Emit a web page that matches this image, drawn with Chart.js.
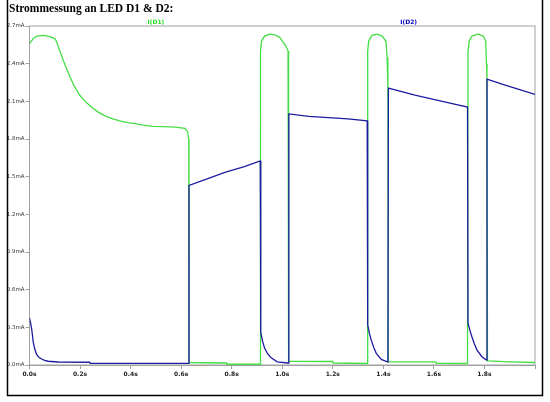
<!DOCTYPE html>
<html>
<head>
<meta charset="utf-8">
<script src="https://cdn.jsdelivr.net/npm/chart.js@4/dist/chart.umd.min.js"></script>
<style>
  html, body { margin: 0; padding: 0; background: #fff; }
  #wrap { position: relative; width: 550px; height: 402px; }
</style>
</head>
<body>
<div id="wrap"><canvas id="chart" width="550" height="402"></canvas></div>
<script>
// I(D1) - time in s, current in mA
const timeD1 = [0, 0.015, 0.03, 0.055, 0.08, 0.1, 0.105, 0.11, 0.115, 0.12, 0.127, 0.133, 0.145, 0.159, 0.175, 0.198, 0.225, 0.251, 0.275, 0.303, 0.33, 0.356, 0.39, 0.421, 0.45, 0.487, 0.53, 0.578, 0.615, 0.625, 0.63, 0.631,
  0.78, 0.781, 0.912, 0.914, 0.918, 0.93, 0.95, 0.97, 0.99, 1.0, 1.012, 1.023, 1.025,
  1.2, 1.201, 1.336, 1.338, 1.342, 1.355, 1.375, 1.395, 1.41, 1.415, 1.418, 1.42,
  1.608, 1.609, 1.733, 1.735, 1.74, 1.75, 1.775, 1.795, 1.805, 1.808, 1.81, 1.812, 1.9, 2.0];
const currentD1 = [2.56, 2.60, 2.62, 2.625, 2.615, 2.60, 2.585, 2.56, 2.53, 2.50, 2.465, 2.43, 2.37, 2.30, 2.23, 2.15, 2.09, 2.045, 2.01, 1.98, 1.96, 1.945, 1.93, 1.92, 1.91, 1.90, 1.898, 1.895, 1.885, 1.86, 1.80, 0.02,
  0.016, 0.006, 0.006, 2.50, 2.58, 2.62, 2.635, 2.63, 2.61, 2.58, 2.55, 2.50, 0.03,
  0.028, 0.016, 0.012, 2.50, 2.58, 2.625, 2.635, 2.62, 2.58, 2.45, 2.21, 0.026,
  0.025, 0.013, 0.012, 2.50, 2.58, 2.62, 2.635, 2.62, 2.58, 2.40, 2.28, 0.032, 0.025, 0.02];

// I(D2)
const timeD2 = [0, 0.005, 0.009, 0.015, 0.021, 0.028, 0.037, 0.048, 0.06, 0.074, 0.113, 0.238, 0.24, 0.629, 0.631, 0.7, 0.776, 0.85, 0.913,
  0.915, 0.922, 0.93, 0.942, 0.955, 0.98, 1.02, 1.024, 1.026, 1.105, 1.26, 1.336,
  1.338, 1.345, 1.352, 1.362, 1.372, 1.392, 1.418, 1.42, 1.525, 1.655, 1.733,
  1.735, 1.742, 1.75, 1.76, 1.77, 1.79, 1.808, 1.81, 1.879, 2.0];
const currentD2 = [0.374, 0.33, 0.28, 0.18, 0.125, 0.085, 0.062, 0.048, 0.037, 0.03, 0.024, 0.022, 0.013, 0.013, 1.43, 1.48, 1.537, 1.58, 1.625,
  0.26, 0.19, 0.135, 0.09, 0.06, 0.025, 0.016, 0.016, 2.0, 1.98, 1.96, 1.945,
  0.32, 0.25, 0.20, 0.14, 0.093, 0.045, 0.024, 2.205, 2.15, 2.09, 2.054,
  0.333, 0.28, 0.227, 0.17, 0.12, 0.066, 0.04, 2.277, 2.232, 2.155];

const xTicks = [0, 0.2, 0.4, 0.6, 0.8, 1.0, 1.2, 1.4, 1.6, 1.8, 2.0];
const yTicks = [0, 0.3, 0.6, 0.9, 1.2, 1.5, 1.8, 2.1, 2.4, 2.7];

const toPoints = (xs, ys) => xs.map((x, i) => ({ x: x, y: ys[i] }));

const frame = {
  id: 'frame',
  beforeDatasetsDraw(chart) {
    const { ctx, chartArea: a } = chart;
    ctx.save();
    ctx.strokeStyle = '#a0a0a0';
    ctx.lineWidth = 1;
    ctx.strokeRect(a.left, a.top, a.right - a.left, a.bottom - a.top);
    ctx.restore();
  },
  afterDraw(chart) {
    const { ctx, chartArea: a } = chart;
    ctx.save();
    ctx.strokeStyle = '#000';
    ctx.lineWidth = 1.5;
    ctx.beginPath();
    ctx.moveTo(7.5, -2);
    ctx.lineTo(7.5, 395.5);
    ctx.lineTo(542.5, 395.5);
    ctx.lineTo(542.5, -2);
    ctx.stroke();

    ctx.fillStyle = '#000';
    ctx.font = 'bold 11.5px "Liberation Serif", serif';
    ctx.textBaseline = 'alphabetic';
    ctx.fillText('Strommessung an LED D1 & D2:', 9, 12);

    ctx.font = 'bold 6px "DejaVu Sans", sans-serif';
    ctx.textAlign = 'center';
    ctx.textBaseline = 'middle';
    const w = a.right - a.left;
    ctx.fillStyle = '#22dd22';
    ctx.fillText('I(D1)', a.left + w / 4, 22);
    ctx.fillStyle = '#0000cc';
    ctx.fillText('I(D2)', a.left + 3 * w / 4, 22);
    ctx.restore();
  }
};

new Chart(document.getElementById('chart').getContext('2d'), {
  type: 'line',
  data: {
    datasets: [{
      label: 'I(D2)',
      data: toPoints(timeD2, currentD2),
      borderColor: '#1c1ca0',
      borderWidth: 1.3,
      pointRadius: 0,
      tension: 0,
      fill: false,
      order: 1
    }, {
      label: 'I(D1)',
      data: toPoints(timeD1, currentD1),
      borderColor: '#44dd44',
      borderWidth: 1.3,
      pointRadius: 0,
      tension: 0,
      fill: false,
      order: 2
    }]
  },
  options: {
    responsive: false,
    animation: false,
    layout: { padding: { left: 7.5, right: 15, top: 26, bottom: 17 } },
    scales: {
      x: {
        type: 'linear',
        min: 0,
        max: 2.0,
        afterFit: s => { s.height = 20; },
        afterBuildTicks: s => { s.ticks = xTicks.map(v => ({ value: v })); },
        grid: { drawOnChartArea: false, drawTicks: true, tickLength: 4, color: '#a0a0a0' },
        border: { color: '#a0a0a0' },
        ticks: {
          padding: 2,
          maxRotation: 0,
          autoSkip: false,
          color: '#222',
          font: { family: 'DejaVu Sans', size: 6, weight: 'bold' },
          callback: v => (v > 1.95 ? '' : v.toFixed(1) + 's')
        }
      },
      y: {
        min: 0,
        max: 2.7,
        afterFit: s => { s.width = 22; },
        afterBuildTicks: s => { s.ticks = yTicks.map(v => ({ value: v })); },
        grid: { drawOnChartArea: false, drawTicks: true, tickLength: 4, color: '#a0a0a0' },
        border: { color: '#a0a0a0' },
        ticks: {
          padding: 1,
          autoSkip: false,
          color: '#333',
          font: { family: 'DejaVu Sans', size: 5.5 },
          callback: v => v.toFixed(1) + 'mA'
        }
      }
    },
    plugins: {
      legend: { display: false },
      tooltip: { enabled: false }
    }
  },
  plugins: [frame]
});
</script>
</body>
</html>
